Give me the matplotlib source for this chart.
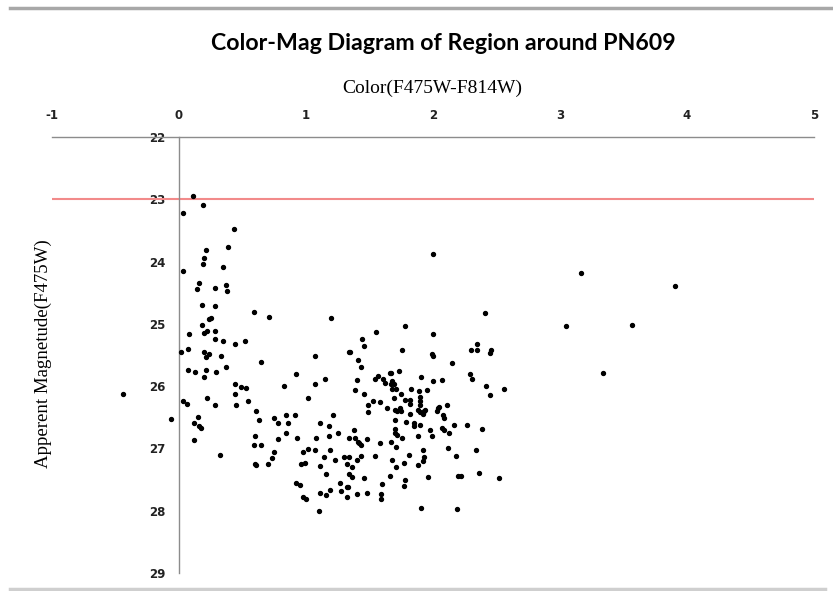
import matplotlib
matplotlib.use("Agg")
import matplotlib.pyplot as plt
from matplotlib.lines import Line2D

# Color (F475W-F814W) and apparent magnitude (F475W)
color_vals = [
    0.11, 0.19, 0.03, 0.43, 0.21, 0.39, 0.20, 0.19, 0.35, 0.03, 0.16, 0.14, 0.28, 0.37, 0.38,
    0.18, 0.28, 0.59, 0.71, 0.24, 0.25, 0.18, 0.08, 0.20, 0.22, 0.28, 0.28,
    0.35, 0.44, 0.52, 0.02, 0.07, 0.20, 0.24, 0.21, 0.33, 0.65, 0.37, 0.07, 0.13, 0.21, 0.29,
    0.20, 0.92, 0.44, 0.49, 0.53, 0.83, -0.44, 0.44, 0.03, 0.06, 0.22, 0.28, 0.45, 0.54, 0.61,
    -0.06, 0.15, 0.12, 0.16, 0.17, 0.63, 0.75, 0.78, 0.84, 0.91, 0.86, 0.84, 0.93, 0.60, 0.78,
    0.12, 0.59, 0.65, 0.75, 0.32, 0.73, 0.60, 0.61, 0.70, 0.96, 0.92, 0.95,
    1.20, 2.41, 1.78, 1.55, 2.00, 1.44, 1.46, 1.34, 1.35, 1.76, 1.99, 2.00, 2.35, 2.30, 2.35,
    2.45, 2.46, 1.07, 1.41, 2.15, 1.43, 2.29, 2.31, 1.66, 1.67, 1.73, 1.57, 1.54, 1.15, 1.40,
    1.61, 1.62, 1.68, 1.67, 1.69, 1.91, 2.00, 2.07, 1.07, 1.68, 1.71, 1.39, 1.46, 1.75, 1.83,
    1.89, 1.95, 2.42, 2.56, 2.45, 1.02, 1.69, 1.78, 1.82, 1.90, 1.90, 1.53, 1.58, 1.49, 1.82,
    1.90, 1.64, 1.70, 1.74, 1.75, 1.72, 1.88, 1.90, 1.93, 1.92, 1.94, 2.03, 2.04, 2.05, 2.11,
    1.49, 1.82, 2.08, 2.09, 1.21, 1.70, 1.79, 1.85, 1.85, 1.90, 2.17, 2.27, 1.11, 1.18, 1.08,
    1.18, 1.25, 1.38, 1.34, 1.39, 1.41, 1.42, 1.43, 1.48, 1.70, 1.70, 1.72, 1.76, 1.67, 1.58,
    1.88, 1.99, 1.98, 2.07, 2.09, 2.13, 2.39, 2.12, 2.34, 2.18, 0.98, 1.02, 1.07, 1.19, 1.14,
    1.23, 1.30, 1.34, 1.43, 1.40, 1.54, 1.71, 1.81, 1.92, 1.93, 1.92, 1.88, 1.68, 1.77, 1.71,
    0.99, 1.11, 1.32, 1.36, 1.16, 1.34, 1.36, 1.46, 1.66, 1.78, 1.77, 1.60, 1.96, 2.20, 2.22,
    2.36, 2.52, 1.27, 1.32, 1.33, 1.19, 1.28, 1.11, 1.16, 1.40, 1.48, 1.59, 1.59, 1.32, 0.98,
    1.00, 1.10, 1.91, 2.19,
    2.00, 3.17, 3.91, 3.05, 3.57, 3.34,
]
mag_vals = [
    22.95, 23.09, 23.22, 23.48, 23.81, 23.77, 23.95, 24.04, 24.09, 24.15, 24.35, 24.44, 24.42, 24.38, 24.47,
    24.70, 24.72, 24.81, 24.89, 24.92, 24.90, 25.02, 25.17, 25.15, 25.11, 25.11, 25.24,
    25.28, 25.33, 25.28, 25.45, 25.40, 25.45, 25.49, 25.53, 25.52, 25.61, 25.69, 25.74, 25.78, 25.74, 25.78,
    25.85, 25.80, 25.96, 26.01, 26.03, 25.99, 26.12, 26.12, 26.24, 26.28, 26.19, 26.31, 26.31, 26.24, 26.40,
    26.53, 26.49, 26.60, 26.64, 26.67, 26.55, 26.51, 26.60, 26.46, 26.46, 26.60, 26.76, 26.83, 26.80, 26.85,
    26.87, 26.94, 26.94, 27.05, 27.10, 27.16, 27.25, 27.27, 27.25, 27.25, 27.56, 27.59,
    24.90, 24.83, 25.04, 25.13, 25.17, 25.24, 25.35, 25.45, 25.45, 25.42, 25.49, 25.52, 25.33, 25.42, 25.42,
    25.47, 25.42, 25.52, 25.58, 25.63, 25.70, 25.81, 25.88, 25.79, 25.79, 25.76, 25.83, 25.88, 25.88, 25.90,
    25.88, 25.95, 25.92, 25.96, 25.97, 25.85, 25.92, 25.90, 25.97, 26.04, 26.04, 26.06, 26.13, 26.13, 26.04,
    26.08, 26.06, 25.99, 26.04, 26.15, 26.19, 26.19, 26.22, 26.22, 26.17, 26.24, 26.24, 26.26, 26.31, 26.29,
    26.31, 26.35, 26.38, 26.35, 26.40, 26.40, 26.38, 26.42, 26.40, 26.44, 26.38, 26.40, 26.35, 26.33, 26.31,
    26.42, 26.44, 26.47, 26.51, 26.47, 26.54, 26.58, 26.60, 26.64, 26.62, 26.62, 26.62, 26.60, 26.64, 26.83,
    26.80, 26.76, 26.71, 26.83, 26.83, 26.90, 26.92, 26.94, 26.85, 26.69, 26.76, 26.78, 26.83, 26.90, 26.92,
    26.80, 26.80, 26.71, 26.67, 26.71, 26.76, 26.69, 26.99, 27.03, 27.12, 27.06, 27.01, 27.03, 27.03, 27.14,
    27.19, 27.14, 27.14, 27.12, 27.19, 27.12, 26.98, 27.10, 27.03, 27.14, 27.21, 27.27, 27.19, 27.23, 27.30,
    27.23, 27.28, 27.25, 27.30, 27.41, 27.41, 27.46, 27.48, 27.44, 27.51, 27.60, 27.57, 27.46, 27.44, 27.44,
    27.39, 27.48, 27.55, 27.62, 27.62, 27.67, 27.69, 27.71, 27.75, 27.73, 27.71, 27.73, 27.82, 27.78, 27.78,
    27.82, 28.00, 27.96, 27.98,
    23.88, 24.18, 24.39, 25.04, 25.02, 25.79,
]

x_ticks = [-1, 0, 1, 2, 3, 4, 5]
y_ticks = [22, 23, 24, 25, 26, 27, 28, 29]
cut_mag = 23

fig = plt.figure(figsize=(8.33, 5.91), dpi=100)
ax = fig.add_axes([0.0624, 0.0305, 0.9146, 0.7377])

ax.scatter(color_vals, mag_vals, s=8, color="black", zorder=3)
ax.axhline(cut_mag, color="#f28a8a", linewidth=1.5, zorder=2)

ax.set_xlim(-1, 5)
ax.set_ylim(29, 22)

# Excel-like axes: x axis on top, y axis crossing at color = 0
ax.spines["right"].set_visible(False)
ax.spines["bottom"].set_visible(False)
ax.spines["left"].set_position(("data", 0))
for side in ["top", "left"]:
    ax.spines[side].set_color("#8c8c8c")
    ax.spines[side].set_linewidth(1.0)

ax.xaxis.tick_top()
ax.set_xticks(x_ticks)
ax.set_yticks(y_ticks)
tick_font = ["Liberation Sans Narrow", "DejaVu Sans"]
ax.set_xticklabels([str(t) for t in x_ticks], family=tick_font, fontsize=8.5, fontweight="bold")
ax.set_yticklabels([str(t) for t in y_ticks], family=tick_font, fontsize=8.5, fontweight="bold")
ax.tick_params(axis="x", length=0, pad=11, colors="#222222")
ax.tick_params(axis="y", length=0, pad=10, colors="#222222")

fig.text(0.532, 0.927, "Color-Mag Diagram of Region around PN609", ha="center", va="center",
         fontsize=16.7, fontweight="bold", family=["Lato", "DejaVu Sans"])
fig.text(0.519, 0.851, "Color(F475W-F814W)", ha="center", va="center",
         fontsize=14, family=["Liberation Serif", "DejaVu Serif"])
fig.text(0.052, 0.401, "Apperent Magnetude(F475W)", ha="center", va="center", rotation=90,
         fontsize=13.6, family=["Liberation Serif", "DejaVu Serif"])

# chart area border lines
fig.add_artist(Line2D([0.012, 1.0], [0.986, 0.986], color="#a8a8a8", linewidth=2.5))
fig.add_artist(Line2D([0.012, 0.99], [0.004, 0.004], color="#cfcfcf", linewidth=2.5))

fig.savefig("out.png", dpi=100, facecolor="white")
